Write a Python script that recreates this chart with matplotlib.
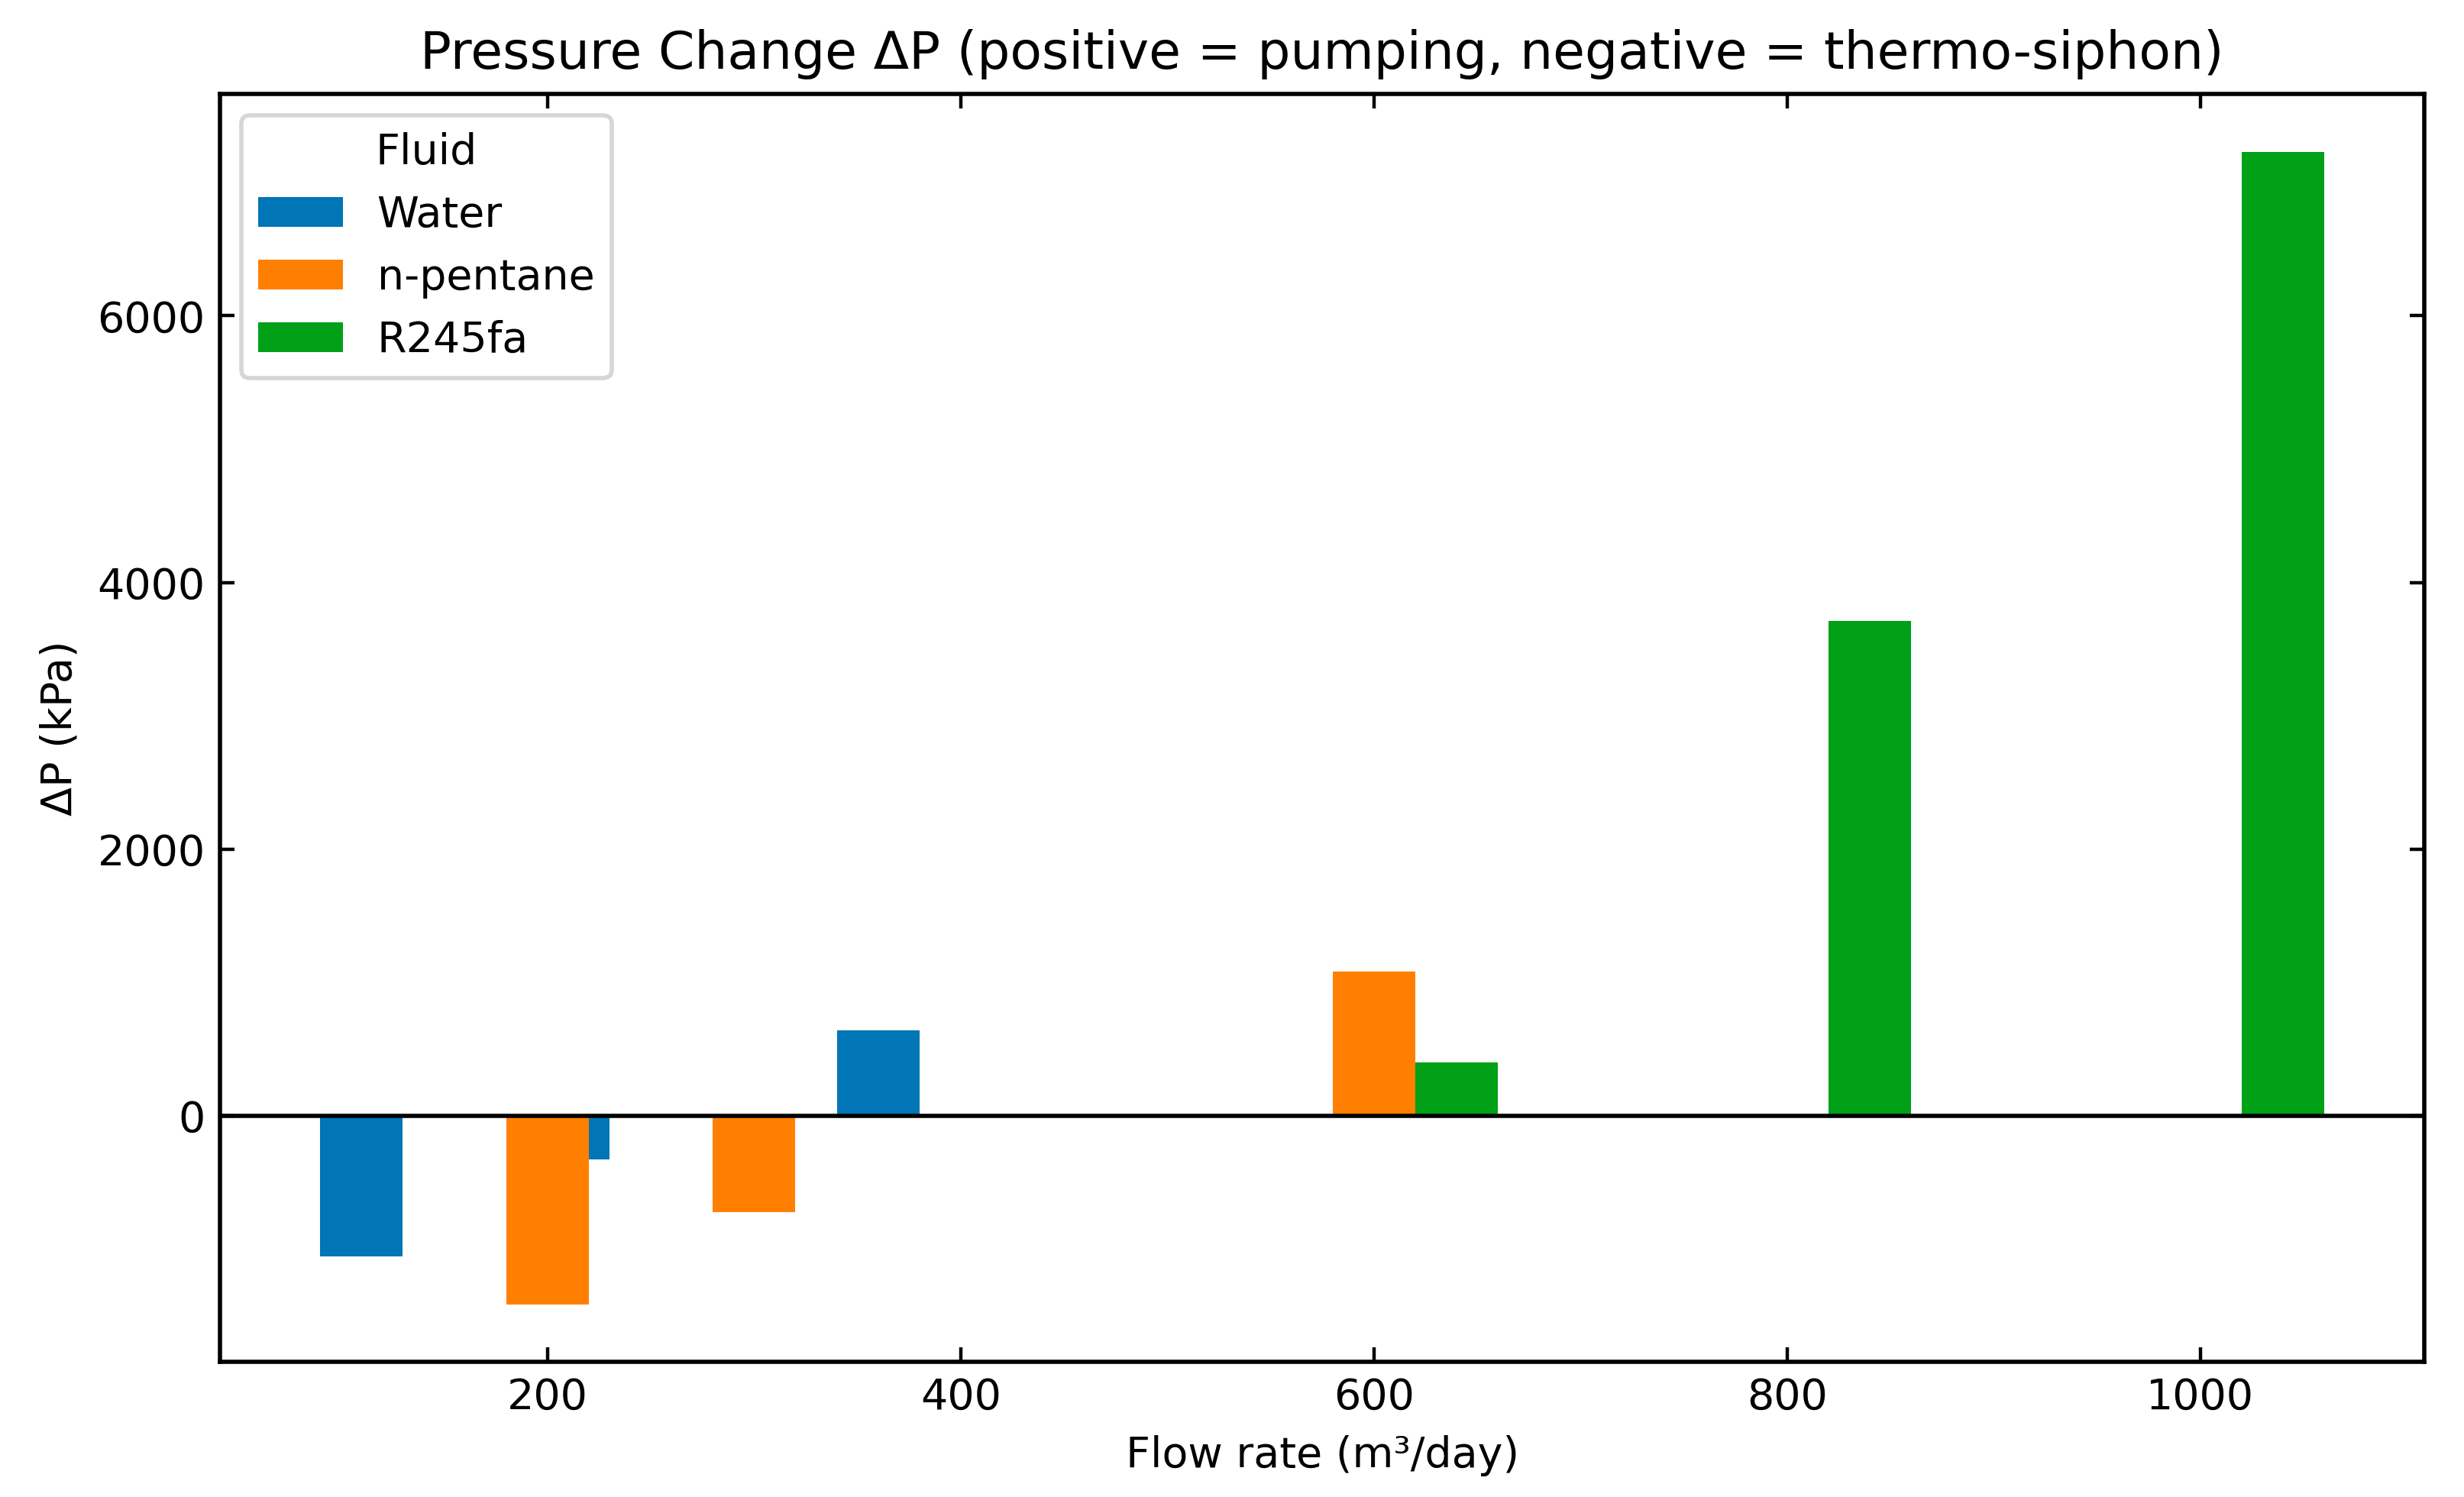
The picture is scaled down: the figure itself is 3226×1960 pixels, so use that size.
import numpy as np
import matplotlib.pyplot as plt

# flow rates (m3/day) and pressure change (kPa) per fluid
water_q = [150, 250, 400]
water_dp = [-1055, -325, 640]
pentane_q = [200, 300, 600]
pentane_dp = [-1412, -722, 1080]
r245_q = [600, 800, 1000]
r245_dp = [400, 3712, 7228]

fluids = ['Water', 'n-pentane', 'R245fa']
colors = ['#0076b6', '#ff7f00', '#00a017']
offsets = [-40, 0, 40]
width = 40

fig, ax = plt.subplots(figsize=(8.065, 4.9), dpi=400)
fig.subplots_adjust(left=0.0893, right=0.984, bottom=0.0903, top=0.937)

series = [(water_q, water_dp), (pentane_q, pentane_dp), (r245_q, r245_dp)]
for (q, dp), name, c, off in zip(series, fluids, colors, offsets):
    ax.bar(np.array(q) + off, dp, width=width, color=c, label=name)

ax.axhline(0, color='black', linewidth=1.0)

ax.set_title('Pressure Change ΔP (positive = pumping, negative = thermo-siphon)', fontsize=12.25)
ax.set_xlabel('Flow rate (m³/day)')
ax.set_ylabel('ΔP (kPa)')
ax.tick_params(direction='in', top=True, right=True)
for s in ax.spines.values():
    s.set_linewidth(1.0)
ax.legend(title='Fluid', loc='upper left')

plt.savefig('out.png', dpi=400)
